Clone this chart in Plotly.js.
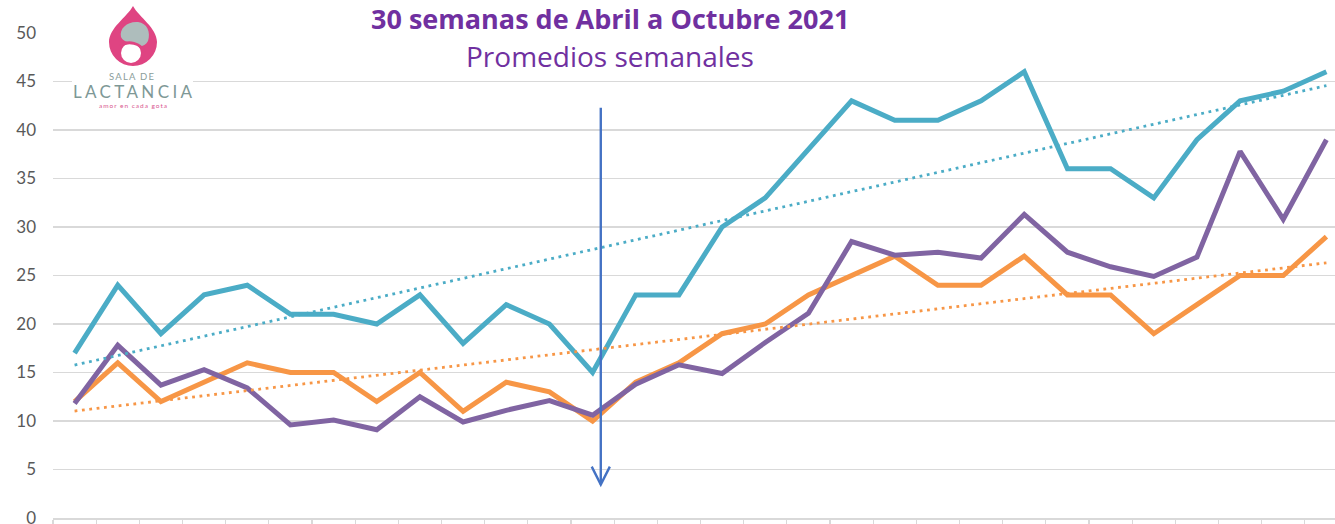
<!DOCTYPE html>
<html>
<head>
<meta charset="utf-8">
<script src="https://cdn.plot.ly/plotly-3.0.1.min.js"></script>
<style>
  html, body { margin: 0; padding: 0; overflow: hidden; background: #ffffff; width: 1335px; height: 524px; }
  #wrap { position: relative; width: 1350px; height: 524px; overflow: hidden; }
  #chart { position: absolute; left: 0; top: 0; width: 1350px; height: 545px; }
  #logo { position: absolute; left: 0; top: 0; width: 200px; height: 115px; pointer-events: none; }
</style>
</head>
<body>
<div id="wrap">
  <div id="chart"></div>
  <svg id="logo" viewBox="0 0 200 115" width="200" height="115">
    <rect x="72" y="0" width="121" height="112" fill="#ffffff"/>
    <path d="M133,6 C127,17 109,28 109,42 A24,24 0 0 0 157,42 C157,28 139,17 133,6 Z" fill="#DF4482"/>
    <path d="M121,37 C119,28 128,21 138,22 C147,23 151,32 148,41 C145,47 139,47 135,44 C130,42 124,43 121,37 Z" fill="#AEBDBC"/>
    <circle cx="131" cy="53" r="10" fill="#ffffff"/>
    <path d="M120,46 C128,40 141,43 144,52" stroke="#DF4482" stroke-width="3" fill="none"/>
    <text x="131.5" y="79.5" text-anchor="middle" font-family="Lato, 'Open Sans', sans-serif" font-size="9.5" fill="#8A9D9B" textLength="45" lengthAdjust="spacing">SALA DE</text>
    <text x="132.5" y="97.5" text-anchor="middle" font-family="Lato, 'Open Sans', sans-serif" font-size="17" fill="#7E9896" textLength="119" lengthAdjust="spacing">LACTANCIA</text>
    <text x="133" y="107.5" text-anchor="middle" font-family="Lato, 'Open Sans', sans-serif" font-size="6.5" fill="#D9588F" textLength="68" lengthAdjust="spacing">amor en cada gota</text>
  </svg>
</div>
<script>
// ---- data (weekly averages, 30 weeks April - October 2021) ----
const weeks = [1,2,3,4,5,6,7,8,9,10,11,12,13,14,15,16,17,18,19,20,21,22,23,24,25,26,27,28,29,30];
const serieTeal = [17,24,19,23,24,21,21,20,23,18,22,20,15,23,23,30,33,38,43,41,41,43,46,36,36,33,39,43,44,46];
const serieOrange = [12,16,12,14,16,15,15,12,15,11,14,13,10,14,16,19,20,23,25,27,24,24,27,23,23,19,22,25,25,29];
const seriePurple = [11.8,17.8,13.7,15.3,13.4,9.6,10.1,9.1,12.5,9.9,11.1,12.1,10.6,13.8,15.8,14.9,18.1,21.1,28.5,27.1,27.4,26.8,31.3,27.4,25.9,24.9,26.9,37.8,30.8,39.0];
const yTicks = [0,5,10,15,20,25,30,35,40,45,50];
const titleText = "30 semanas de Abril a Octubre 2021";
const subtitleText = "Promedios semanales";
const arrowWeek = 13.19;     // position of the marker arrow (between week 13 and 14)
const arrowFrom = 42.3, arrowTo = 3.45;

// ---- linear trendline (least squares), like the spreadsheet trendline ----
function trend(xs, ys) {
  const n = xs.length;
  const mx = xs.reduce((a, b) => a + b, 0) / n;
  const my = ys.reduce((a, b) => a + b, 0) / n;
  let sxy = 0, sxx = 0;
  for (let i = 0; i < n; i++) { sxy += (xs[i] - mx) * (ys[i] - my); sxx += (xs[i] - mx) * (xs[i] - mx); }
  const b = sxy / sxx, a = my - b * mx;
  const x0 = xs[0], x1 = xs[n - 1];
  return { x: [x0, x1], y: [a + b * x0, a + b * x1] };
}

const C_TEAL = "#4BACC6", C_ORANGE = "#F79646", C_PURPLE = "#8064A2";
const tT = trend(weeks, serieTeal);
const tO = trend(weeks, serieOrange);

const traces = [
  { x: weeks, y: serieTeal, type: "scatter", mode: "lines", line: { color: C_TEAL, width: 5 }, hoverinfo: "skip" },
  { x: weeks, y: serieOrange, type: "scatter", mode: "lines", line: { color: C_ORANGE, width: 5 }, hoverinfo: "skip" },
  { x: weeks, y: seriePurple, type: "scatter", mode: "lines", line: { color: C_PURPLE, width: 5 }, hoverinfo: "skip" },
  { x: tT.x, y: tT.y, type: "scatter", mode: "lines", line: { color: C_TEAL, width: 2.8, dash: "2.8px,4.6px" }, hoverinfo: "skip" },
  { x: tO.x, y: tO.y, type: "scatter", mode: "lines", line: { color: C_ORANGE, width: 2.8, dash: "2.8px,4.6px" }, hoverinfo: "skip" }
];

const tickPos = [0.5].concat(weeks.map(w => w + 0.5));
const headDx = 0.21, headDy = 1.85;
const H = 545, T = 33, B = 27;          // plot area from y=33 to y=518
const PH = H - T - B;

const layout = {
  width: 1350, height: H,
  margin: { l: 53, r: 2, t: T, b: B },
  paper_bgcolor: "#ffffff", plot_bgcolor: "#ffffff",
  showlegend: false,
  font: { family: "Lato, 'Open Sans', sans-serif", color: "#595959" },
  xaxis: {
    range: [0.5, 30.5], showgrid: false, zeroline: false,
    tickmode: "array", tickvals: tickPos, showticklabels: false,
    ticks: "outside", ticklen: 8, tickwidth: 1.3, tickcolor: "#D9D9D9",
    showline: true, linecolor: "#D9D9D9", linewidth: 1.5, fixedrange: true
  },
  yaxis: {
    range: [0, 50], tickmode: "array", tickvals: yTicks,
    showgrid: true, gridcolor: "#D9D9D9", gridwidth: 1.5, zeroline: false,
    showline: false, ticks: "", ticklabelstandoff: 16,
    tickfont: { size: 17, color: "#595959", family: "Lato, 'Open Sans', sans-serif" }, fixedrange: true
  },
  shapes: [
    { type: "line", xref: "x", yref: "y", x0: arrowWeek, x1: arrowWeek, y0: arrowFrom, y1: arrowTo,
      line: { color: "#4472C4", width: 2.4 } },
    { type: "path", xref: "x", yref: "y",
      path: "M" + (arrowWeek - headDx) + "," + (arrowTo + headDy) + " L" + arrowWeek + "," + arrowTo + " L" + (arrowWeek + headDx) + "," + (arrowTo + headDy),
      line: { color: "#4472C4", width: 2.4 } }
  ],
  annotations: [
    { text: "<b>" + titleText + "</b>", xref: "paper", yref: "paper", x: (609.5 - 53) / 1295, y: 1 + (T - 18.5) / PH,
      xanchor: "center", yanchor: "middle", showarrow: false, borderpad: 0,
      font: { size: 27, color: "#7030A0", family: "'Open Sans', Lato, sans-serif" } },
    { text: subtitleText, xref: "paper", yref: "paper", x: (609.5 - 53) / 1295, y: 1 - (56 - T) / PH,
      xanchor: "center", yanchor: "middle", showarrow: false,
      font: { size: 28, color: "#7030A0", family: "'Open Sans', Lato, sans-serif" } }
  ]
};

Plotly.newPlot("chart", traces, layout, { staticPlot: true, displayModeBar: false });
</script>
</body>
</html>
